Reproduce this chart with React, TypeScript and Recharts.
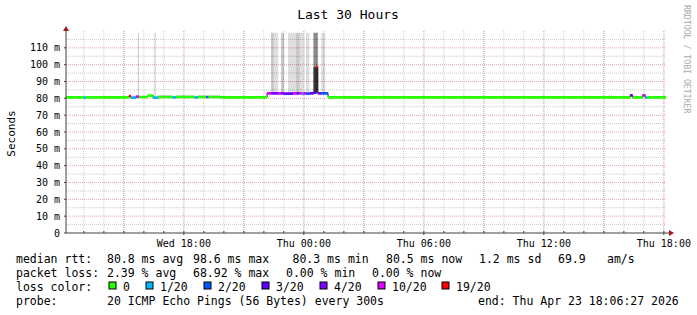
import React from "react";
import { ComposedChart, Area, XAxis, YAxis, CartesianGrid, ReferenceDot } from "recharts";

// time axis in hours since Wed 00:00; graph ends Thu 18:06:27
const START_H = 12 + 6 / 60 + 27 / 3600;
const END_H = START_H + 30;
const MAX_MS = 120;

const hourTicks = [13, 14, 15, 16, 17, 18, 19, 20, 21, 22, 23, 24, 25, 26, 27, 28, 29, 30, 31, 32, 33, 34, 35, 36, 37, 38, 39, 40, 41, 42];
const threeHourTicks = [15, 18, 21, 24, 27, 30, 33, 36, 39, 42];
const labelHours = [18, 24, 30, 36, 42];
const hourLabels = ["Wed 18:00", "Thu 00:00", "Thu 06:00", "Thu 12:00", "Thu 18:00"];

const msTicks = [0, 10, 20, 30, 40, 50, 60, 70, 80, 90, 100, 110];
const msLabels = ["0", "10 m", "20 m", "30 m", "40 m", "50 m", "60 m", "70 m", "80 m", "90 m", "100 m", "110 m"];
const minorMsTicks = [5, 15, 25, 35, 45, 55, 65, 75, 85, 95, 105, 115];
const majorMsTicks = [10, 20, 30, 40, 50, 60, 70, 80, 90, 100, 110];

// loss legend
const lossLevels = [0, 1, 2, 3, 4, 10, 19];
const lossLabels = ["0", "1/20", "2/20", "3/20", "4/20", "10/20", "19/20"];
const lossColors = ["#26ff00", "#00b8ff", "#0059ff", "#5e00ff", "#7e00ff", "#dd00ff", "#ff0000"];

// steps (start hour of each step)
const stepStart = [
  START_H, 13.0, 13.1, 15.25, 15.35, 15.6, 15.7, 15.75, 16.2, 16.47, 16.5, 16.6, 16.72, 17.45, 17.6, 18.55,
  18.7, 19.1, 19.22, 19.8, 22.16, 22.36, 22.49, 22.71, 22.86, 23.01, 23.21, 23.46, 23.62, 23.78, 23.91, 23.98,
  24.11, 24.28, 24.48, 24.61, 24.7, 24.87, 25.07, 25.21, 39.26, 39.39, 40.31, 40.44, 40.94, 41.07, 41.17, END_H,
];
const medianMs = [
  80.6, 80.4, 80.6, 81.4, 80.4, 81.0, 81.0, 80.8, 81.6, 80.4, 80.4, 80.4, 80.8, 80.6, 80.8, 80.6,
  80.8, 80.8, 80.8, 80.6, 83.0, 83.0, 83.0, 83.0, 83.0, 82.8, 82.8, 83.0, 83.0, 83.0, 82.6, 83.0,
  82.8, 83.0, 83.4, 98.6, 83.0, 83.0, 83.0, 80.6, 80.6, 80.6, 81.8, 80.6, 81.8, 80.4, 80.6, 80.6,
];
const lossOf20 = [
  0, 1, 0, 19, 1, 10, 10, 0, 0, 1, 1, 1, 0, 1, 0, 1,
  0, 2, 0, 0, 10, 4, 4, 10, 4, 3, 3, 10, 4, 10, 1, 10,
  2, 3, 3, 19, 4, 2, 2, 0, 0, 0, 3, 0, 10, 1, 0, 0,
];
// smoke: lowest ping and tops of the ping bands (null = nothing above the median)
const N = null;
const smokeFloor = [
  N, N, N, N, N, N, N, N, N, N, N, N, N, N, N, N,
  N, N, N, N, N, N, N, N, N, N, N, N, N, N, N, N,
  N, N, 83.0, 83.0, N, N, N, N, N, N, N, N, N, N, N, N,
];
const smoke1Top = [
  N, N, N, N, N, N, 119, N, N, N, 119, N, 82, N, 82, N,
  82, N, 82, N, N, 119, 119, N, 119, N, 119, 119, 119, 119, 119, N,
  119, N, 119, 119, N, 119, N, N, 82, N, N, N, N, N, N, N,
];
const smoke2Top = [
  N, N, N, N, N, N, 119, N, N, N, N, N, N, N, N, N,
  N, N, N, N, N, 119, N, N, 119, N, N, N, 119, N, N, N,
  N, N, 119, 119, N, N, N, N, N, N, N, N, N, N, N, N,
];
const smoke3Top = [
  N, N, N, N, N, N, N, N, N, N, N, N, N, N, N, N,
  N, N, N, N, N, N, N, N, N, N, N, N, N, N, N, N,
  N, N, 119, 119, N, N, N, N, N, N, N, N, N, N, N, N,
];
const smoke4Top = [
  N, N, N, N, N, N, N, N, N, N, N, N, N, N, N, N,
  N, N, N, N, N, N, N, N, N, N, N, N, N, N, N, N,
  N, N, 98.6, 98.6, N, N, N, N, N, N, N, N, N, N, N, N,
];

const rows = stepStart.map((t, i) => {
  const med = medianMs[i];
  const low = smokeFloor[i] ?? med;
  return {
    t,
    med,
    loss: lossOf20[i],
    low,
    s1: smoke1Top[i] ?? low,
    s2: smoke2Top[i] ?? low,
    s3: smoke3Top[i] ?? low,
    s4: smoke4Top[i] ?? low,
  };
});

const smokeLayers = [
  { key: "s1", opacity: 0.13 },
  { key: "s2", opacity: 0.1 },
  { key: "s3", opacity: 0.3 },
  { key: "s4", opacity: 0.57 },
];

const FONT = '"DejaVu Sans Mono", monospace';
const AXIS = "#404040";
const ARROW = "#9e1b1b";
const HALF = 0.8; // half thickness of median band, ms

// grid positions from the same linear mapping as the axes
const xGrid = (hours: number[]) => ({ offset }: any) =>
  offset ? hours.map((h) => offset.left + ((h - START_H) / (END_H - START_H)) * offset.width) : [];
const yGrid = (values: number[]) => ({ offset }: any) =>
  offset ? values.map((v) => offset.top + (1 - v / MAX_MS) * offset.height) : [];

const XTick = (props: any) => {
  const { x, y, payload } = props;
  const idx = labelHours.indexOf(payload.value);
  return (
    <g>
      <line x1={x} x2={x} y1={y - 2} y2={y + (idx >= 0 ? 2 : 0)} stroke={AXIS} />
      {idx >= 0 && (
        <text x={x} y={y + 13.5} textAnchor="middle" fontFamily={FONT} fontSize={10} fill="#000">
          {hourLabels[idx]}
        </text>
      )}
    </g>
  );
};

const YTick = (props: any) => {
  const { x, y, payload } = props;
  const idx = msTicks.indexOf(payload.value);
  return (
    <text x={x} y={y + 3.6} textAnchor="end" fontFamily={FONT} fontSize={10} fill="#000">
      {msLabels[idx]}
    </text>
  );
};

const UpArrow = (props: any) => {
  const { cx, cy } = props;
  return <polygon points={`${cx - 3},${cy} ${cx + 3},${cy} ${cx},${cy - 5}`} fill={ARROW} />;
};

const RightArrow = (props: any) => {
  const { cx, cy } = props;
  return (
    <g>
      <line x1={cx} x2={cx + 3} y1={cy} y2={cy} stroke={AXIS} />
      <polygon points={`${cx + 3},${cy - 3} ${cx + 3},${cy + 3} ${cx + 8},${cy}`} fill={ARROW} />
    </g>
  );
};

const legendText = { fontFamily: FONT, fontSize: 11.5, fill: "#000" };
const lossBoxX = [109, 146, 204, 262, 320, 378, 442];

export default function App() {
  return (
    <div style={{ position: "relative", width: 697, height: 315, background: "#fff" }}>
      <style>{"body{margin:0}"}</style>
      <ComposedChart width={697} height={315} data={rows} margin={{ top: 31, right: 31, bottom: 62, left: 0 }}>
        <XAxis
          xAxisId="h"
          dataKey="t"
          type="number"
          domain={[START_H, END_H]}
          ticks={hourTicks}
          height={20}
          tickSize={0}
          tickMargin={0}
          tickLine={false}
          axisLine={{ stroke: AXIS }}
          tick={XTick}
          interval={0}
        />
        <YAxis
          yAxisId="ms"
          type="number"
          domain={[0, MAX_MS]}
          ticks={msTicks}
          width={66}
          tickSize={2}
          tickMargin={4}
          tickLine={{ stroke: AXIS }}
          axisLine={{ stroke: AXIS }}
          tick={YTick}
          interval={0}
        />
        <CartesianGrid
          xAxisId="h"
          yAxisId="ms"
          stroke="#c8c8c8"
          strokeDasharray="1 1"
          verticalCoordinatesGenerator={xGrid(hourTicks)}
          horizontalCoordinatesGenerator={yGrid(minorMsTicks)}
        />
        <CartesianGrid
          xAxisId="h"
          yAxisId="ms"
          stroke="#e4a4a4"
          strokeDasharray="1 1"
          verticalCoordinatesGenerator={xGrid(threeHourTicks)}
          horizontalCoordinatesGenerator={yGrid(majorMsTicks)}
        />

        {smokeLayers.map((layer) => (
          <Area
            key={layer.key}
            xAxisId="h"
            yAxisId="ms"
            type="stepAfter"
            dataKey={(r: any) => [r.low, r[layer.key]]}
            fill="#000"
            fillOpacity={layer.opacity}
            stroke="none"
            dot={false}
            activeDot={false}
            isAnimationActive={false}
          />
        ))}
        <Area
          xAxisId="h"
          yAxisId="ms"
          type="stepAfter"
          dataKey="med"
          fill="none"
          stroke="#202020"
          strokeWidth={1}
          dot={false}
          activeDot={false}
          isAnimationActive={false}
        />
        {lossLevels.map((lvl, i) => (
          <Area
            key={lvl}
            xAxisId="h"
            yAxisId="ms"
            type="stepAfter"
            dataKey={(r: any) => (r.loss === lvl ? [r.med - HALF, r.med + HALF] : [r.med, r.med])}
            fill={lossColors[i]}
            fillOpacity={1}
            stroke="none"
            dot={false}
            activeDot={false}
            isAnimationActive={false}
          />
        ))}
        <ReferenceDot xAxisId="h" yAxisId="ms" x={START_H} y={MAX_MS} shape={UpArrow} ifOverflow="visible" />
        <ReferenceDot xAxisId="h" yAxisId="ms" x={END_H} y={0} shape={RightArrow} ifOverflow="visible" />
      </ComposedChart>

      <svg width={697} height={315} style={{ position: "absolute", left: 0, top: 0, pointerEvents: "none" }}>
        <text x={348} y={18.5} textAnchor="middle" fontFamily={FONT} fontSize={13} fill="#000">
          Last 30 Hours
        </text>
        <text transform="translate(15,133.5) rotate(-90)" textAnchor="middle" fontFamily={FONT} fontSize={11} fill="#000">
          Seconds
        </text>
        <text transform="translate(684,5) rotate(90)" fontFamily={FONT} fontSize={8.2} fill="#aaaaaa">
          RRDTOOL / TOBI OETIKER
        </text>

        <g {...legendText}>
          <text x={16} y={262.5}>median rtt:</text>
          <text x={107} y={262.5}>80.8 ms avg</text>
          <text x={193} y={262.5}>98.6 ms max</text>
          <text x={292.5} y={262.5}>80.3 ms min</text>
          <text x={386} y={262.5}>80.5 ms now</text>
          <text x={479} y={262.5}>1.2 ms sd</text>
          <text x={558} y={262.5}>69.9</text>
          <text x={607} y={262.5}>am/s</text>

          <text x={16} y={276.5}>packet loss:</text>
          <text x={107} y={276.5}>2.39 % avg</text>
          <text x={193} y={276.5}>68.92 % max</text>
          <text x={286} y={276.5}>0.00 % min</text>
          <text x={372} y={276.5}>0.00 % now</text>

          <text x={16} y={290.5}>loss color:</text>
          {lossLabels.map((lbl, i) => (
            <g key={lbl}>
              <rect x={lossBoxX[i]} y={282} width={7} height={7} fill={lossColors[i]} stroke="#000" strokeWidth={1} />
              <text x={lossBoxX[i] + 14} y={290.5}>{lbl}</text>
            </g>
          ))}

          <text x={16} y={304.5}>probe:</text>
          <text x={107} y={304.5}>20 ICMP Echo Pings (56 Bytes) every 300s</text>
          <text x={478} y={304.5}>end: Thu Apr 23 18:06:27 2026</text>
        </g>
      </svg>
    </div>
  );
}
